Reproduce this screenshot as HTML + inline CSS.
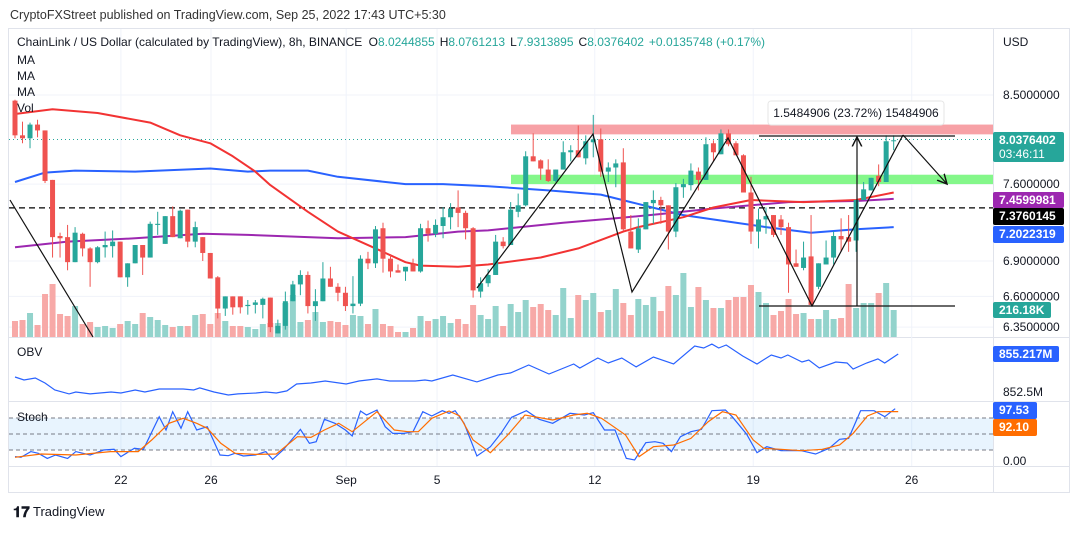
<!DOCTYPE html>
<html><head><meta charset="utf-8">
<style>
html,body{margin:0;padding:0;background:#fff;}
body{width:1078px;height:529px;overflow:hidden;font-family:"Liberation Sans",sans-serif;}
svg text{font-family:"Liberation Sans",sans-serif;}
</style></head>
<body>
<svg id="chart" width="1078" height="529" viewBox="0 0 1078 529" xmlns="http://www.w3.org/2000/svg">
<text x="10" y="19" font-size="12.5" fill="#333">CryptoFXStreet published on TradingView.com, Sep 25, 2022 17:43 UTC+5:30</text>
<rect x="8.5" y="28.5" width="1061" height="464" fill="none" stroke="#e0e3eb"/>
<line x1="993.5" y1="28" x2="993.5" y2="492" stroke="#e0e3eb"/>
<line x1="9" y1="337.5" x2="1069" y2="337.5" stroke="#e0e3eb"/>
<line x1="9" y1="401.5" x2="1069" y2="401.5" stroke="#e0e3eb"/>
<line x1="9" y1="466.5" x2="1069" y2="466.5" stroke="#e0e3eb"/>
<g id="grid"></g>
<g id="bands"></g>
<g id="vol"></g>
<g id="mas"></g>
<g id="candles"></g>
<g id="draw"></g>
<g id="obv"></g>
<g id="stoch"></g>
<g id="axes"></g>
<g font-size="12" fill="#131722">
<text x="17" y="46">ChainLink / US Dollar (calculated by TradingView), 8h, BINANCE <tspan dx="3">O</tspan><tspan fill="#26a69a">8.0244855</tspan><tspan dx="5">H</tspan><tspan fill="#26a69a">8.0761213</tspan><tspan dx="5">L</tspan><tspan fill="#26a69a">7.9313895</tspan><tspan dx="5">C</tspan><tspan fill="#26a69a">8.0376402</tspan><tspan dx="5" fill="#26a69a">+0.0135748 (+0.17%)</tspan></text>
<text x="17" y="64">MA</text>
<text x="17" y="80">MA</text>
<text x="17" y="96">MA</text>
<text x="17" y="112">Vol</text>
<text x="17" y="356">OBV</text>
<text x="17" y="421">Stoch</text>
<text x="1003" y="46">USD</text>
</g>
<g>
<text x="13" y="517" font-size="15" font-weight="bold" fill="#131722">𝟏𝟕</text>
<text x="33" y="516" font-size="13" fill="#131722">TradingView</text>
</g>
</svg>
<script>
const open=[8.44,8.08,8.05,8.19,8.13,7.64,7.12,7.11,6.89,7.14,7.01,6.89,7.02,7.03,7.07,6.76,6.88,7.04,6.93,7.22,7.05,7.30,7.10,7.36,7.07,7.11,6.97,6.76,6.50,6.60,6.60,6.52,6.53,6.53,6.59,6.30,6.36,6.56,6.70,6.78,6.52,6.56,6.75,6.68,6.63,6.52,6.54,6.92,6.88,7.19,6.92,6.82,6.81,6.87,6.81,7.19,7.14,7.21,7.29,7.38,7.33,7.19,6.64,6.71,6.78,7.07,7.04,7.34,7.40,7.87,7.83,7.74,7.63,7.74,7.91,7.93,7.85,8.01,8.04,7.72,7.76,7.81,7.16,7.00,7.18,7.42,7.45,7.40,7.16,7.57,7.59,7.72,7.64,8.00,7.89,8.10,8.00,7.88,7.52,7.16,7.27,7.31,7.27,7.20,6.88,6.84,6.94,6.68,6.87,6.93,7.12,7.11,7.08,7.45,7.54,7.68,7.62,8.02];
const high=[8.45,8.22,8.21,8.24,8.13,7.64,7.15,7.22,7.20,7.15,7.02,7.03,7.16,7.17,7.07,6.88,7.04,7.04,7.25,7.34,7.30,7.39,7.36,7.36,7.25,7.11,6.97,6.77,6.60,6.60,6.60,6.57,6.57,6.59,6.59,6.41,6.64,6.73,6.82,6.81,6.66,6.89,6.85,6.71,6.68,6.77,6.95,6.98,7.21,7.24,6.96,6.87,6.85,6.92,7.23,7.26,7.27,7.38,7.42,7.54,7.35,7.20,6.76,6.83,7.13,7.11,7.43,7.51,7.92,8.10,7.84,7.84,7.74,8.02,7.98,8.18,8.08,8.29,8.15,7.81,7.84,7.95,7.31,7.28,7.43,7.54,7.48,7.40,7.61,7.65,7.80,7.76,8.06,8.03,8.14,8.14,8.02,7.89,7.67,7.37,7.38,7.31,7.31,7.24,7.00,7.07,7.31,6.88,7.08,7.16,7.28,7.31,7.45,7.62,7.66,7.79,8.08,8.08];
const low=[8.05,8.00,7.95,8.06,7.61,6.93,6.93,6.82,6.89,6.94,6.68,6.88,6.93,6.93,6.76,6.68,6.88,6.78,6.93,7.13,7.05,7.11,7.10,7.02,7.02,6.90,6.75,6.42,6.44,6.45,6.46,6.45,6.46,6.42,6.31,6.30,6.33,6.56,6.61,6.46,6.40,6.56,6.68,6.56,6.48,6.46,6.52,6.83,6.84,6.80,6.76,6.80,6.73,6.81,6.80,7.07,7.11,7.10,7.18,7.20,7.09,6.59,6.59,6.68,6.78,7.01,7.04,7.29,7.39,7.82,7.64,7.62,7.62,7.74,7.82,7.86,7.79,7.86,7.67,7.62,7.57,7.17,7.01,6.97,7.18,7.23,7.23,7.00,7.11,7.47,7.54,7.54,7.64,7.82,7.89,7.97,7.88,7.52,7.05,7.01,7.14,7.11,7.13,6.63,6.85,6.82,6.53,6.66,6.87,6.87,6.98,6.98,6.98,7.45,7.54,7.58,7.62,7.93];
const close=[8.08,8.05,8.19,8.13,7.63,7.11,7.10,6.89,7.15,7.01,6.89,7.02,7.04,7.07,6.76,6.88,7.04,6.93,7.23,7.23,7.30,7.11,7.35,7.07,7.20,6.97,6.75,6.50,6.60,6.51,6.51,6.53,6.55,6.58,6.35,6.36,6.56,6.70,6.78,6.52,6.56,6.75,6.68,6.63,6.52,6.54,6.92,6.88,7.18,6.92,6.81,6.80,6.85,6.81,7.19,7.14,7.22,7.29,7.37,7.33,7.19,6.65,6.71,6.78,7.07,7.03,7.36,7.40,7.87,7.82,7.75,7.63,7.74,7.91,7.93,7.86,8.02,8.04,7.72,7.76,7.80,7.18,7.01,7.19,7.43,7.45,7.40,7.16,7.57,7.60,7.73,7.64,7.99,7.91,8.10,7.99,7.88,7.52,7.16,7.27,7.30,7.13,7.20,6.87,6.85,6.93,6.53,6.88,6.93,7.12,7.09,7.07,7.45,7.55,7.66,7.62,8.02,8.03];
const volumeK=[128,136,192,96,344,424,184,168,248,104,120,80,88,72,104,128,104,192,160,136,96,80,88,88,176,184,104,192,128,88,88,80,64,104,112,112,272,336,120,136,200,120,128,120,96,176,168,104,224,104,88,40,40,72,168,128,144,168,112,144,104,256,176,144,248,88,264,200,296,240,264,216,176,392,152,336,296,352,200,216,384,272,176,304,256,320,208,408,336,512,240,400,296,232,232,296,320,320,416,360,272,176,208,304,184,192,144,144,216,144,152,424,232,272,272,352,432,216];
const maRedIdx=[0,5,11,18,22,26,29,32,34,39,43,48,52,54,59,63,70,75,81,83,89,93,98,105,112,117];
const maRedVal=[8.30,8.35,8.31,8.21,8.08,8.00,7.87,7.72,7.59,7.34,7.16,7.01,6.89,6.86,6.85,6.87,6.93,7.01,7.16,7.20,7.29,7.38,7.45,7.43,7.45,7.52];
const maBlueIdx=[0,4,8,16,26,31,34,39,43,52,57,63,71,78,82,86,89,95,100,106,112,117];
const maBlueVal=[7.62,7.71,7.73,7.72,7.75,7.72,7.73,7.73,7.67,7.60,7.60,7.58,7.54,7.50,7.43,7.36,7.31,7.25,7.20,7.15,7.18,7.20];
const maPurpleIdx=[0,7,16,25,31,43,52,59,63,73,80,86,93,103,112,117];
const maPurpleVal=[7.02,7.07,7.10,7.14,7.13,7.10,7.11,7.16,7.17,7.24,7.28,7.32,7.37,7.43,7.44,7.46];
const obvIdx=[0,1.2,2.7,4,5.3,7.2,8.1,10,12.8,14.1,16,17.3,19.2,21,22.4,23.8,24.6,26.5,28.4,29.7,32.1,33.4,34.8,36.2,37.5,39.4,41.3,44.1,45.8,48.2,49.9,53.3,54.6,55.5,58.3,61.5,64.3,66,68.4,71.1,74.4,75.2,77.6,79,80.8,82.7,85,87.7,90.5,91.7,92.8,93.7,94.7,96.9,98.8,100.7,102,102.9,104.8,105.7,107.1,109.3,110.8,111.6,113.4,114.9,115.8,117.6];
const obvM=[853.60,853.38,853.53,853.16,852.65,852.36,852.50,852.36,852.50,852.43,852.65,852.50,852.72,852.72,852.72,852.65,852.80,852.50,852.28,852.36,852.43,852.50,852.43,852.58,853.09,853.16,853.31,853.09,853.31,853.46,853.31,853.31,853.38,853.31,853.75,853.24,853.75,853.90,854.48,853.82,854.56,854.26,855.00,854.63,855.00,854.34,855.07,854.56,855.88,855.73,856.02,855.73,855.95,855.14,854.56,855.22,855.00,855.22,854.70,854.85,854.26,854.70,854.63,854.19,854.63,854.93,854.63,855.29];
const stochKIdx=[0,0.8,2.1,3.1,4.3,5.4,7.0,8.1,10.0,11.8,13.2,14.1,15.9,17.1,19.2,20.1,21.0,22.1,23.0,24.2,25.6,27.3,28.4,29.3,30.4,32.0,33.4,34.3,35.7,38.0,39.2,40.1,41.2,42.6,44.0,44.9,46.0,46.8,48.2,49.3,50.3,51.8,53.0,54.3,55.5,56.9,57.8,58.6,59.8,61.5,63.3,64.7,66.1,68.1,69.8,71.6,73.9,75.8,77.0,78.5,79.9,81.4,82.5,84.0,85.2,86.3,87.4,88.6,90.0,91.4,92.8,94.6,95.5,97.4,98.8,100.1,102.0,104.7,106.6,108.4,109.8,111.0,112.6,114.4,115.8,117.2];
const stochK=[7.6,6.3,17,13.8,4.4,10.7,4.4,17,10.7,20,21.3,7.6,23.2,21.3,82.6,57.6,92,60.7,92,57.6,63.8,10.7,9.4,13.8,8.8,10.7,17,2.5,20,58.8,32.6,35.7,77.6,70.1,57.6,46.3,93.2,85.7,95.1,63.8,51.3,51.3,54.4,92,83.8,93.9,88.9,93.9,70.1,8.8,26.3,51.3,81.3,93.9,77.6,70.1,88.9,85.7,90.1,57.6,57.6,4.4,1.3,33.8,35.7,32.6,17,45.1,54.4,58.8,93.9,95.1,82.6,50.1,15.1,26.3,18.8,18.8,12.6,23.2,40.1,41.9,93.9,93.9,82.6,97.5];
const stochDIdx=[0,3.5,8.1,12.7,16.4,18.2,20.5,22.4,24.2,25.6,27.4,29.3,32.0,34.8,37.6,39.4,41.2,43.1,44.9,48.2,50.5,52.3,53.7,55.5,57.8,59.2,61.0,63.3,65.6,67.9,71.6,74.4,76.2,78.1,81.3,83.1,85.0,87.7,90.0,92.3,94.2,96.0,98.3,99.7,102.0,104.7,107.5,109.8,111.6,113.5,114.9,117.6];
const stochD=[6.3,12.6,10.7,17,17,38.8,70.1,79.5,70.1,60.7,32.6,13.8,11.9,12.6,45.1,43.8,57.6,70.1,54.4,92,57.6,54.4,54.4,79.5,93.2,83.8,38.8,15.1,48.2,85.7,76.4,85.7,88.9,79.5,48.2,7.6,26.3,29.4,41.9,73.2,92,85.7,38.8,23.2,21.3,18.8,21.3,29.4,51.3,83.8,92,92.1];
const priceTicks=[8.5,7.6,6.9,6.6,6.35];
const priceTickLabels=['8.5000000','7.6000000','6.9000000','6.6000000','6.3500000'];
const timeTickIdx=[14.1,26.1,44.1,56.2,77.2,98.3,119.4];
const timeTickLabels=['22','26','Sep','5','12','19','26'];
const stochLevels=[80,50,20];

const NS='http://www.w3.org/2000/svg';
function xOf(i){return 15+i*7.51;}
function yP(p){return 95+(Math.log(8.5)-Math.log(p))*796;}
function yV(v){return 337-v/8;}
function yObv(v){return 355-(v-855.217)/0.0734;}
function yS(v){return 460.7-v*0.533;}
function mk(tag,attrs,parent){const e=document.createElementNS(NS,tag);for(const k in attrs)e.setAttribute(k,attrs[k]);parent.appendChild(e);return e;}
const G=id=>document.getElementById(id);
const GREEN='#26a69a',RED='#ef5350';

// grid
const grid=G('grid');
timeTickIdx.forEach((t,k)=>{const l=mk('line',{x1:xOf(t),x2:xOf(t),y1:29,y2:466,stroke:'#f0f3fa'},grid);

});
priceTicks.forEach(p=>{const l=mk('line',{x1:9,x2:993,y1:yP(p),y2:yP(p),stroke:'#f0f3fa'},grid);

});

// bands
const bands=G('bands');
const res=mk('rect',{x:511,y:yP(8.19),width:482,height:yP(8.09)-yP(8.19),fill:'#f7a1a6'},bands);


const sup=mk('rect',{x:511,y:yP(7.69),width:482,height:yP(7.60)-yP(7.69),fill:'#84f78a'},bands);


const dl=mk('line',{x1:9,x2:993,y1:yP(7.3760145),y2:yP(7.3760145),stroke:'#000','stroke-dasharray':'6,4','stroke-width':1.2},bands);


const cp=mk('line',{x1:9,x2:993,y1:yP(8.0376402),y2:yP(8.0376402),stroke:GREEN,'stroke-dasharray':'1,3'},bands);



// volume
const vol=G('vol');
volumeK.forEach((v,i)=>{const up=close[i]>=open[i];
const r=mk('rect',{x:xOf(i)-3,y:yV(v),width:6,height:v/8,fill:up?'#93d3cc':'#f7a9a7'},vol);

});

// MAs
const mas=G('mas');
function maLine(idx,vals,color,name){let d='';idx.forEach((t,k)=>{d+=(k?'L':'M')+xOf(t).toFixed(1)+','+yP(vals[k]).toFixed(1);});
const p=mk('path',{d:d,fill:'none',stroke:color,'stroke-width':2,'stroke-linejoin':'round'},mas);

}
maLine(maBlueIdx,maBlueVal,'#2962ff','ma-blue');
maLine(maPurpleIdx,maPurpleVal,'#9c27b0','ma-purple');
maLine(maRedIdx,maRedVal,'#f23333','ma-red');

// candles
const cg=G('candles');
open.forEach((o,i)=>{const c=close[i],up=c>=o,col=up?GREEN:RED,x=xOf(i);
const w=mk('line',{x1:x,x2:x,y1:yP(high[i]),y2:yP(low[i]),stroke:col,'stroke-width':1},cg);


const top=yP(Math.max(o,c)),bot=yP(Math.min(o,c));
const b=mk('rect',{x:x-2.5,y:top,width:5,height:Math.max(1,bot-top),fill:col},cg);

});

// pattern drawings
const dr=G('draw');
mk('defs',{},dr).innerHTML='<marker id="ah" markerWidth="10" markerHeight="10" refX="8" refY="5" orient="auto"><path d="M0,1 L8,5 L0,9" fill="none" stroke="#111" stroke-width="1.2"/></marker>';
const zz=mk('polyline',{points:'10,200 93,337',fill:'none',stroke:'#111','stroke-width':1.2},dr);


const zz2=mk('polyline',{points:'477,288 593,134 632,292 728,138 812,306 903,135',fill:'none',stroke:'#111','stroke-width':1.2},dr);


const ar=mk('line',{x1:903,y1:135,x2:947,y2:184,stroke:'#111','stroke-width':1.2,'marker-end':'url(#ah)'},dr);


const h1=mk('line',{x1:759,x2:955,y1:136,y2:136,stroke:'#111','stroke-width':1.2},dr);


const h2=mk('line',{x1:759,x2:955,y1:306,y2:306,stroke:'#111','stroke-width':1.2},dr);


const va=mk('line',{x1:857,x2:857,y1:306,y2:137,stroke:'#111','stroke-width':1.2,'marker-end':'url(#ah)'},dr);


const bx=mk('rect',{x:768,y:101,width:176,height:24,rx:3,fill:'#fff',stroke:'#e6e6e6'},dr);


const bt=mk('text',{x:856,y:117,'font-size':12,'text-anchor':'middle',fill:'#131722'},dr);
bt.textContent='1.5484906 (23.72%) 15484906';



// OBV
const og=G('obv');let od='';
obvIdx.forEach((t,k)=>{od+=(k?'L':'M')+xOf(t).toFixed(1)+','+yObv(obvM[k]).toFixed(1);});
const op=mk('path',{d:od,fill:'none',stroke:'#2962ff','stroke-width':1.2},og);



// Stoch
const sg=G('stoch');
const band=mk('rect',{x:9,y:yS(80),width:984,height:yS(20)-yS(80),fill:'rgba(33,150,243,0.1)'},sg);


stochLevels.forEach(l=>{const e=mk('line',{x1:9,x2:993,y1:yS(l),y2:yS(l),stroke:'#787b86','stroke-dasharray':'4,3'},sg);

});
function sLine(idx,vals,col,name){let d='';idx.forEach((t,k)=>{d+=(k?'L':'M')+xOf(t).toFixed(1)+','+yS(vals[k]).toFixed(1);});
const p=mk('path',{d:d,fill:'none',stroke:col,'stroke-width':1.2},sg);

}
sLine(stochKIdx,stochK,'#2962ff','stoch-k-line');
sLine(stochDIdx,stochD,'#ff6d00','stoch-d-line');

// axes
const ax=G('axes');
priceTicks.forEach((p,k)=>{const t=mk('text',{x:1003,y:yP(p)+4,'font-size':12,fill:'#131722'},ax);
t.textContent=priceTickLabels[k];

});
timeTickIdx.forEach((ti,k)=>{const t=mk('text',{x:xOf(ti),y:484,'font-size':12,fill:'#131722','text-anchor':'middle'},ax);
t.textContent=timeTickLabels[k];

});
function badge(y,h,w,bg,lines,name){const r=mk('rect',{x:993,y:y,width:w,height:h,rx:2,fill:bg},ax);


lines.forEach((s,k)=>{const t=mk('text',{x:999,y:y+12+k*14,'font-size':12,'font-weight':k?'normal':'bold',fill:'#fff'},ax);t.textContent=s;

});}
badge(132,30,71,GREEN,['8.0376402','03:46:11'],'last-price-badge');
badge(192,16,71,'#9c27b0',['7.4599981'],'ma-purple-badge');
badge(208,17,71,'#000',['7.3760145'],'level-badge');
badge(226,17,71,'#2962ff',['7.2022319'],'ma-blue-badge');
badge(302,16,58,GREEN,['216.18K'],'volume-badge');
badge(346,16,66,'#2962ff',['855.217M'],'obv-badge');
badge(402,17,44,'#2962ff',['97.53'],'stoch-k-badge');
badge(419,17,44,'#ff6d00',['92.10'],'stoch-d-badge');
[['852.5M',396],['0.00',465]].forEach(a=>{const t=mk('text',{x:1003,y:a[1],'font-size':12,fill:'#131722'},ax);t.textContent=a[0];

});
</script>
</body></html>
